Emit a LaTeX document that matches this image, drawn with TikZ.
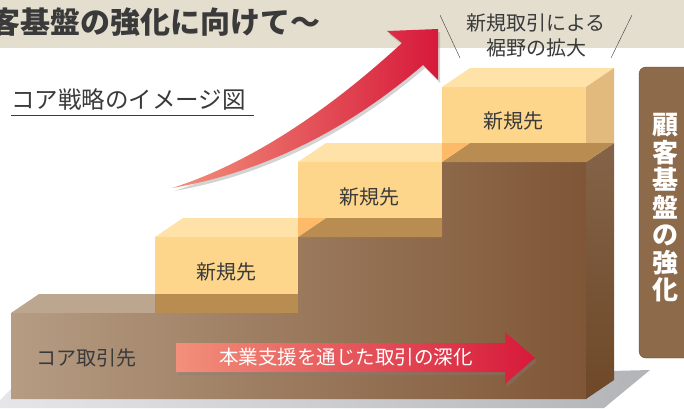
\documentclass[tikz,border=0pt]{standalone}
\usepackage{fontspec}
\newfontfamily\jp{Noto Sans CJK JP}
\usetikzlibrary{shadows,positioning}

\definecolor{bandbeige}{HTML}{E3DECE}
\definecolor{txtgray}{HTML}{3A3A3A}
\definecolor{brownL}{HTML}{B59C83}
\definecolor{brownR}{HTML}{7F5636}
\definecolor{browntop}{HTML}{BDA68F}
\definecolor{brownside}{HTML}{6E4828}
\definecolor{boxfront}{HTML}{FDD68B}
\definecolor{boxtop}{HTML}{FEE2A8}
\definecolor{boxside}{HTML}{E2BA7D}
\definecolor{boxband}{HTML}{B98C52}
\definecolor{boxcorner}{HTML}{FDBB6A}
\definecolor{redL}{HTML}{F2907A}
\definecolor{redR}{HTML}{D7193A}
\definecolor{panel}{HTML}{8D6A4A}
\definecolor{panelEdge}{HTML}{6A4A2C}
\definecolor{shadowL}{HTML}{E6E6E8}
\definecolor{shadowR}{HTML}{B3B4B7}

\begin{document}
\begin{tikzpicture}[x=1pt,y=-1pt,
  lbl/.style={font=\jp\fontsize{20}{25}\selectfont,text=txtgray,inner sep=0pt},
  title/.style={font=\jp\bfseries\fontsize{30}{30}\selectfont,text=txtgray,inner sep=0pt},
  pillartext/.style={font=\jp\bfseries\fontsize{26}{27.5}\selectfont,text=white,align=center,inner sep=0pt},
  arrowtext/.style={font=\jp\fontsize{19.5}{22}\selectfont,text=white,inner sep=0pt},
  newbox/.style={fill=boxfront},
  newtop/.style={fill=boxtop},
  band/.style={fill=boxband},
  redarrow/.style={left color=redL,right color=redR,
    drop shadow={shadow xshift=2pt,shadow yshift=-3pt,opacity=.35}}]
    \clip (0,0) rectangle (684,408);
    % Header
    \fill[bandbeige] (0,0) rectangle (684,48);
    \node[title,anchor=west] (title) at (-10,22) {客基盤の強化に向けて～};
    \node[lbl,anchor=west,font=\jp\fontsize{23.5}{25}\selectfont] (strategy) at (11,100) {コア戦略のイメージ図};
    \draw[txtgray,thin] (11,115) -- (254,115);
    % Floor shadow
    \shade[left color=shadowL,right color=shadowR]
      (0,400) -- (14,386) -- (650,370) -- (604,408) -- (0,408) -- cycle;
    % Steps (core block)
    \fill[browntop] (11,313) -- (39,294) -- (326,294) -- (298,313) -- cycle;
    \fill[browntop] (298,237) -- (326,218) -- (470,218) -- (442,237) -- cycle;
    \fill[browntop] (442,162) -- (470,143) -- (614,143) -- (586,162) -- cycle;
    \shade[left color=brownL,right color=brownR]
      (11,313) -- (298,313) -- (298,237) -- (442,237) -- (442,162)
      -- (586,162) -- (586,399) -- (11,399) -- cycle;
    \shade[top color=brownside!85!white,bottom color=brownside]
      (586,162) -- (614,143) -- (614,380) -- (586,399) -- cycle;
    % New boxes
    \fill[newtop] (155,237) -- (183,218) -- (326,218) -- (298,237) -- cycle;
    \fill[newbox] (155,237) rectangle (298,313);
    \fill[newtop] (298,162) -- (326,143) -- (470,143) -- (442,162) -- cycle;
    \fill[newbox] (298,162) rectangle (442,237);
    \fill[newtop] (442,87) -- (470,68) -- (614,68) -- (586,87) -- cycle;
    \fill[newbox] (442,87) rectangle (586,162);
    \fill[boxside] (586,87) -- (614,68) -- (614,143) -- (586,162) -- cycle;
    \fill[band] (155,294) rectangle (298,313);
    \fill[band] (298,237) -- (326,218) -- (442,218) -- (442,237) -- cycle;
    \fill[boxcorner] (298,237) -- (298,218) -- (326,218) -- cycle;
    \fill[band] (442,162) -- (470,143) -- (614,143) -- (586,162) -- cycle;
    \fill[boxcorner] (442,162) -- (442,143) -- (470,143) -- cycle;
    \node[lbl] (new1) at (226,272) {新規先};
    \node[lbl] (new2) at (369,197) {新規先};
    \node[lbl] (new3) at (513,121) {新規先};
    \node[lbl,anchor=west] (core) at (36,358) {コア取引先};
    % Arrows
    \shade[redarrow] (172,188) .. controls (260,160) and (340,100) .. (402,43)
      -- (387,31) -- (438,29) -- (438,80) -- (423,65)
      .. controls (350,128) and (265,172) .. (172,188) -- cycle;
    \shade[redarrow] (176,343) -- (505,343) -- (505,332) -- (535,358)
      -- (505,384) -- (505,372) -- (176,372) -- cycle;
    \node[arrowtext] (deepen) at (346,357) {本業支援を通じた取引の深化};
    % Expansion label
    \node[lbl,align=center] (expand) at (536,35) {新規取引による\\裾野の拡大};
    \draw[txtgray,thin] (440,15) -- (460,58);
    \draw[txtgray,thin] (632,15) -- (611,58);
    % Side panel
    \draw[fill=panel,draw=panelEdge,rounded corners=7pt] (639,67) rectangle (712,358);
    \node[pillartext] (pillar) at (665,208) {顧\\客\\基\\盤\\の\\強\\化};
\end{tikzpicture}
\end{document}
